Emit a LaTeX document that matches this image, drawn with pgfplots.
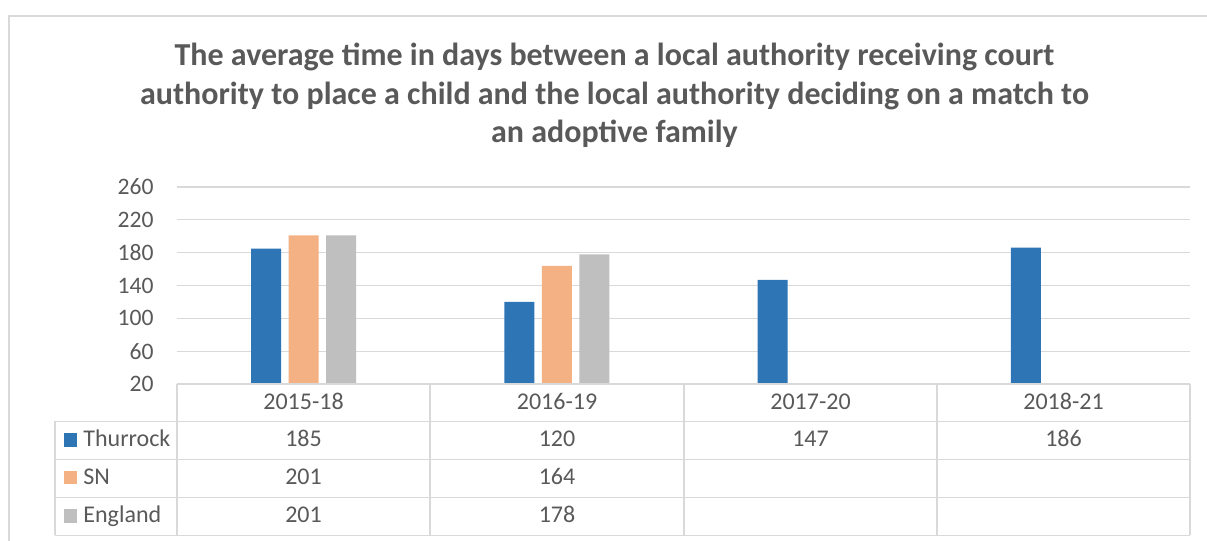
\documentclass[border=0pt]{standalone}
\usepackage{pgfplots}
\pgfplotsset{compat=1.18}
\usepackage{fontspec}
\setmainfont{Carlito}
\definecolor{cThur}{HTML}{2E75B6}
\definecolor{cSN}{HTML}{F4B183}
\definecolor{cEng}{HTML}{BFBFBF}
\definecolor{cTxt}{HTML}{595959}
\definecolor{cGrid}{HTML}{D9D9D9}
\begin{document}
\begin{tikzpicture}
\useasboundingbox (0,0) rectangle (603.5pt,270.5pt);
\begin{axis}[
  at={(88.5pt,78.5pt)}, anchor=south west,
  scale only axis, width=506.5pt, height=98.5pt,
  xmin=-0.5, xmax=3.5, ymin=20, ymax=260,
  ytick={20,60,100,140,180,220,260},
  xtick={0,1,2,3}, xticklabels={},
  ymajorgrids, grid style={cGrid, line width=0.6pt},
  axis line style={draw=none},
  major tick length=0pt,
  tick style={draw=none},
  ybar=3.75pt, bar width=15pt,
  /pgf/number format/assume math mode=true,
  yticklabel style={font=\fontsize{11.8}{13}\selectfont, text=cTxt, inner sep=0pt, xshift=-11.5pt},
]
\addplot[fill=cThur, draw=none] coordinates {(0,185) (1,120) (2,147) (3,186)};
\addplot[fill=cSN, draw=none] coordinates {(0,201) (1,164)};
\addplot[fill=cEng, draw=none] coordinates {(0,201) (1,178)};
\end{axis}
\begin{scope}[x=0.5pt, y=-0.5pt, shift={(0,270.5pt)}]
  % frame
  \draw[cGrid, line width=0.6pt] (9,541) -- (9,16) -- (1207,16);
  % title
  \begin{scope}[every node/.style={anchor=base, inner sep=0pt, text=cTxt, font=\fontsize{16}{19}\selectfont\bfseries}]
    \node at (614.5,66) {The average time in days between a local authority receiving court};
    \node at (614.5,104.5) {authority to place a child and the local authority deciding on a match to};
    \node at (614.5,143) {an adoptive family};
  \end{scope}
  % table lines
  \begin{scope}[cGrid, line width=0.6pt]
    \draw (177,384) -- (1190,384);
    \foreach \yy in {421.5,459.5,497.5,535.5} \draw (55,\yy) -- (1190,\yy);
    \foreach \xx in {177,430,684,937,1190} \draw (\xx,384) -- (\xx,535.5);
    \draw (55,421.5) -- (55,535.5);
  \end{scope}
  \begin{scope}[every node/.style={anchor=base, inner sep=0pt, text=cTxt, font=\fontsize{12}{14}\selectfont}]
    \node at (303.5,410) {2015-18};
    \node at (557,410) {2016-19};
    \node at (810.5,410) {2017-20};
    \node at (1063.5,410) {2018-21};
    \node[anchor=base west] at (83,446.7) {Thurrock};
    \node[anchor=base west] at (83,484.5) {SN};
    \node[anchor=base west] at (83,523) {England};
    \node at (303.5,446.7) {185};
    \node at (557,446.7) {120};
    \node at (810.5,446.7) {147};
    \node at (1063.5,446.7) {186};
    \node at (303.5,484.5) {201};
    \node at (557,484.5) {164};
    \node at (303.5,523) {201};
    \node at (557,523) {178};
  \end{scope}
  \fill[cThur] (63.5,433.2) rectangle (77,446.7);
  \fill[cSN] (63.5,471) rectangle (77,484.5);
  \fill[cEng] (63.5,509.5) rectangle (77,523);
\end{scope}
\end{tikzpicture}
\end{document}
